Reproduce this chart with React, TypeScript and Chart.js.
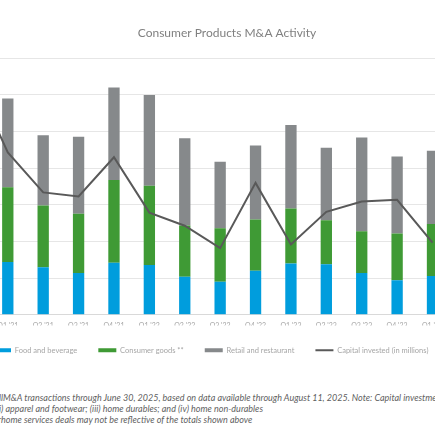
import React, { useEffect, useRef } from "react";
import { Chart, registerables } from "chart.js";

Chart.register(...registerables);

// ---- data ----
const quarters = [
  "Q4 '20", "Q1 '21", "Q2 '21", "Q3 '21", "Q4 '21", "Q1 '22", "Q2 '22", "Q3 '22",
  "Q4 '22", "Q1 '23", "Q2 '23", "Q3 '23", "Q4 '23", "Q1 '24", "Q2 '24",
];
const foodBeverage = [null, 72, 65, 57, 71, 68, 52, 45, 60, 70, 69, 57, 47, 53, null];
const consumerGoods = [null, 102, 84, 81, 113, 108, 70, 73, 70, 75, 60, 57, 64, 71, null];
const retailRestaurant = [null, 121, 96, 105, 126, 124, 119, 91, 101, 114, 99, 128, 105, 100, null];
const capitalInvested = [65500, 44300, 33400, 32300, 43000, 27900, 24300, 18200, 36000, 19200, 28100, 30900, 31400, 19700, null];

const seriesNames = ["Food and beverage", "Consumer goods **", "Retail and restaurant", "Capital invested (in millions)"];
const chartTitle = "Consumer Products M&A Activity";

const footnoteLines = [
  { hidden: "* Includes all ", shown: "M&A transactions through June 30, 2025, based on data available through August 11, 2025. Note: Capital investment" },
  { hidden: "** Consumer goods include: (i) personal care; (ii", shown: ") apparel and footwear; (iii) home durables; and (iv) home non-durables" },
  { hidden: "Note: totals for ", shown: "home services deals may not be reflective of the totals shown above" },
];

const COLORS = {
  food: "#009ddd",
  consumer: "#3f9a35",
  retail: "#86898b",
  line: "#595959",
};

export default function App() {
  const canvasRef = useRef<HTMLCanvasElement | null>(null);

  useEffect(() => {
    if (!canvasRef.current) return;
    const barCommon = {
      categoryPercentage: 0.8,
      barPercentage: 0.4,
      borderWidth: 0,
      pointStyle: "rect",
      order: 1,
      yAxisID: "y",
    };
    const chart = new Chart(canvasRef.current, {
      type: "bar",
      data: {
        labels: quarters,
        datasets: [
          { ...barCommon, label: seriesNames[0], data: foodBeverage, backgroundColor: COLORS.food },
          { ...barCommon, label: seriesNames[1], data: consumerGoods, backgroundColor: COLORS.consumer },
          { ...barCommon, label: seriesNames[2], data: retailRestaurant, backgroundColor: COLORS.retail },
          {
            type: "line",
            label: seriesNames[3],
            data: capitalInvested,
            yAxisID: "y1",
            borderColor: COLORS.line,
            backgroundColor: COLORS.line,
            borderWidth: 2,
            pointStyle: "line",
            pointRadius: 0,
            pointHoverRadius: 0,
            pointBorderWidth: 2,
            pointBorderColor: COLORS.line,
            pointBackgroundColor: COLORS.line,
            tension: 0,
            order: 0,
          } as any,
        ],
      },
      options: {
        animation: false,
        responsive: true,
        maintainAspectRatio: false,
        layout: { padding: 0 },
        events: [],
        scales: {
          x: {
            stacked: true,
            offset: false,
            grid: { display: false, drawTicks: true, tickLength: 6.8 },
            border: { display: true, color: "#d9d9d9", width: 1 },
            ticks: {
              autoSkip: false,
              maxRotation: 0,
              minRotation: 0,
              align: "inner",
              padding: 0,
              color: "#a6a6a6",
              font: { family: "Lato", size: 7 },
            },
            afterFit: (s: any) => {
              s.height = 10.7;
            },
          },
          y: {
            stacked: true,
            min: 0,
            max: 350,
            ticks: { display: false, stepSize: 50 },
            grid: { color: "#e6e6e6", drawTicks: false, lineWidth: 1 },
            border: { display: false },
            afterFit: (s: any) => {
              s.width = 0.4;
            },
          },
          y1: {
            position: "right",
            min: 0,
            max: 70000,
            ticks: { display: false, stepSize: 10000 },
            grid: { drawOnChartArea: false, drawTicks: false },
            border: { display: false },
            afterFit: (s: any) => {
              s.width = 14.1;
            },
          },
        },
        plugins: {
          title: {
            display: true,
            text: chartTitle,
            color: "#808080",
            font: { family: "Lato", size: 12, weight: "normal", lineHeight: 1.2 },
            padding: { top: 26.1, bottom: 17.8 },
          },
          legend: {
            display: true,
            position: "bottom",
            align: "start",
            labels: {
              usePointStyle: true,
              pointStyleWidth: 18,
              boxHeight: 4,
              padding: 21,
              color: "#a6a6a6",
              font: { family: "Lato", size: 7.5 },
              sort: (a: any, b: any) => a.datasetIndex - b.datasetIndex,
            },
          },
          tooltip: { enabled: false },
        },
      } as any,
    });
    return () => chart.destroy();
  }, []);

  return (
    <div
      style={{
        position: "fixed",
        left: 0,
        top: 0,
        width: 435,
        height: 435,
        overflow: "hidden",
        background: "#ffffff",
      }}
    >
      <div style={{ position: "absolute", left: -28, top: 0, width: 510, height: 364 }}>
        <canvas ref={canvasRef} />
      </div>
      {footnoteLines.map((line, i) => (
        <div
          key={i}
          style={{
            position: "absolute",
            left: [3, 1, 1][i],
            top: 391.5 + i * 11.4,
            whiteSpace: "nowrap",
            fontFamily: "Lato",
            fontStyle: "italic",
            fontSize: 9,
            lineHeight: "11px",
            color: "#5f5f5f",
          }}
        >
          <span style={{ position: "absolute", right: "100%", top: 0 }}>{line.hidden}</span>
          {line.shown}
        </div>
      ))}
    </div>
  );
}
